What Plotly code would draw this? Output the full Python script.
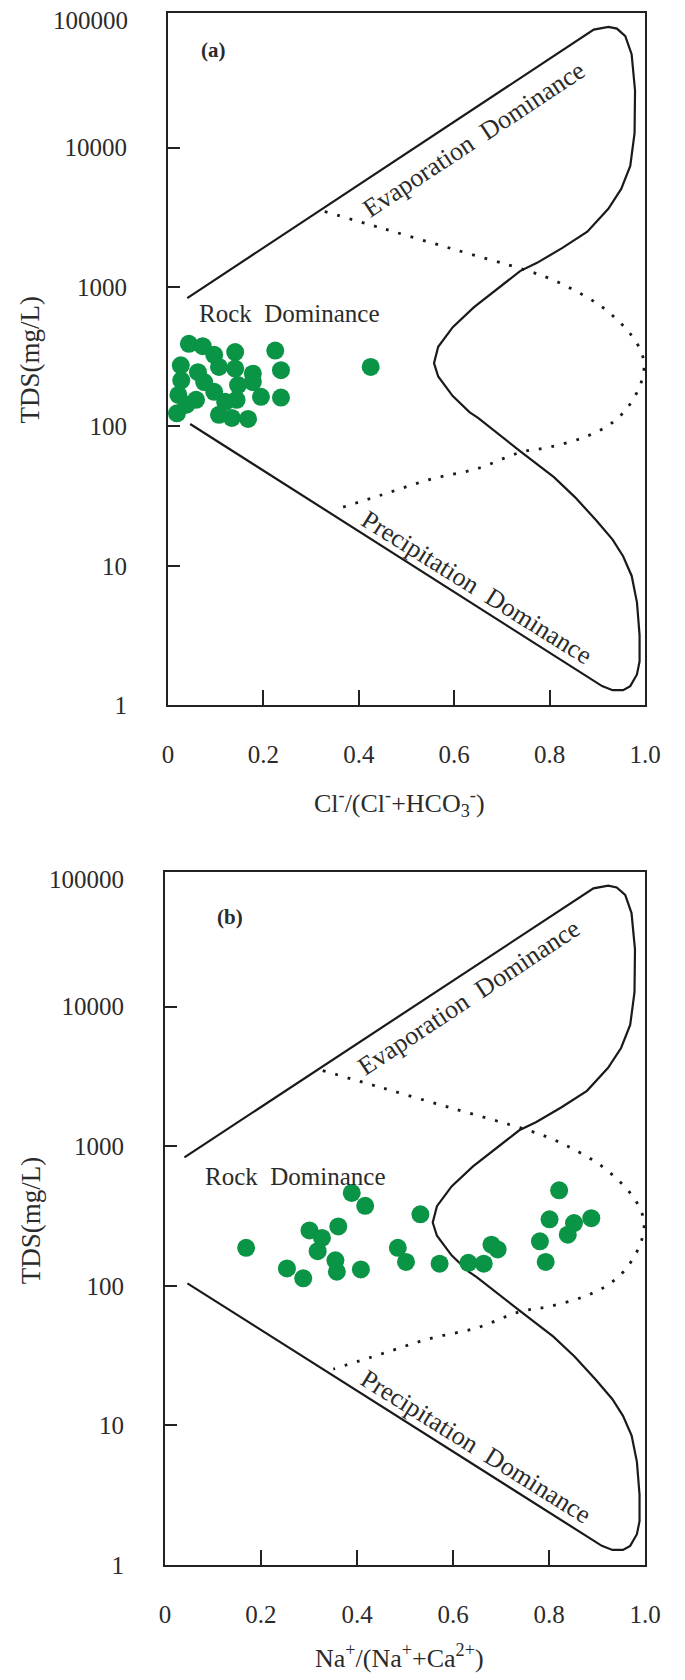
import plotly.graph_objects as go

W, H = 685, 1680

# ---------------- data ----------------
# Gibbs boundary (solid) : x ratio, TDS (mg/L)
bound_x = [0.0405, 0.8617, 0.8925, 0.9233, 0.941, 0.9586, 0.9718, 0.979, 0.978, 0.969,
           0.950, 0.923, 0.879, 0.826, 0.7736, 0.738, 0.694, 0.641, 0.597, 0.5665,
           0.5577, 0.5665, 0.597, 0.6326, 0.650, 0.694, 0.738, 0.809, 0.853, 0.897,
           0.932, 0.954, 0.972, 0.983, 0.9885, 0.9885, 0.983, 0.969, 0.954, 0.932,
           0.910, 0.0467]
bound_tds = [832, 59700, 70300, 73500, 71400, 63100, 46800, 25700, 12700, 7380,
             5050, 3640, 2490, 1900, 1490, 1300, 990, 714, 515, 372,
             284, 228, 165, 126, 115, 87, 66.5, 43.2, 31.1, 21.3,
             15.4, 11.7, 8.45, 5.47, 3.18, 2.06, 1.66, 1.37, 1.28, 1.28,
             1.37, 104]

# dotted boundary
dot_x = [0.3286, 0.45, 0.60, 0.747, 0.80, 0.85, 0.90, 0.94, 0.97, 0.99, 0.998,
         0.994, 0.981, 0.955, 0.92, 0.87, 0.80, 0.738, 0.65, 0.55, 0.45, 0.3507]
dot_tds = [3480, 2630, 1860, 1330, 1150, 955, 759, 589, 457, 355, 282,
           219, 170, 126, 100, 83, 71, 65, 50, 41.7, 32.4, 25.3]

# panel (a) samples: Cl/(Cl+HCO3), TDS
a_x = [0.044, 0.073, 0.097, 0.141, 0.225, 0.027, 0.063, 0.107, 0.141, 0.178,
       0.237, 0.028, 0.076, 0.147, 0.178, 0.097, 0.022, 0.059, 0.120, 0.144,
       0.195, 0.237, 0.019, 0.039, 0.107, 0.134, 0.168, 0.425]
a_tds = [391, 376, 326, 341, 350, 274, 245, 267, 260, 239,
         253, 214, 208, 198, 208, 177, 168, 155, 150, 155,
         163, 161, 124, 143, 121, 115, 113, 267]

# panel (b) samples: Na/(Na+Ca), TDS
b_x = [0.169, 0.254, 0.288, 0.301, 0.327, 0.318, 0.361, 0.355, 0.358, 0.389,
       0.417, 0.408, 0.485, 0.502, 0.532, 0.572, 0.632, 0.664, 0.680, 0.693,
       0.781, 0.793, 0.801, 0.821, 0.839, 0.852, 0.888]
b_tds = [187, 133, 113, 249, 220, 177, 266, 152, 126, 462,
         374, 131, 187, 148, 325, 144, 146, 144, 197, 182,
         208, 148, 299, 483, 232, 281, 305]

x_ticks = [0, 0.2, 0.4, 0.6, 0.8, 1.0]
x_ticktext = ["0", "0.2", "0.4", "0.6", "0.8", "1.0"]
y_ticks = [1, 10, 100, 1000, 10000]
y_ticktext = ["1", "10", "100", "1000", "10000"]

FONT = "Liberation Serif"
TXT = "#2b2b2b"
GREEN = "#0a9445"
LINE = "#1a1a1a"

fig = go.Figure()

for xa, ya, px, py in [("x", "y", a_x, a_tds), ("x2", "y2", b_x, b_tds)]:
    fig.add_trace(go.Scatter(x=bound_x, y=bound_tds, mode="lines", xaxis=xa, yaxis=ya,
                             line=dict(color=LINE, width=2.2), showlegend=False, hoverinfo="skip"))
    fig.add_trace(go.Scatter(x=dot_x, y=dot_tds, mode="lines", xaxis=xa, yaxis=ya,
                             line=dict(color=LINE, width=2.8, dash="2.8px,10px", shape="spline"),
                             showlegend=False, hoverinfo="skip"))
    fig.add_trace(go.Scatter(x=px, y=py, mode="markers", xaxis=xa, yaxis=ya,
                             marker=dict(color=GREEN, size=18, line=dict(width=0)),
                             showlegend=False))

def xaxis(domain, anchor):
    return dict(domain=domain, anchor=anchor, range=[0, 1], showline=True, mirror=True,
                linecolor="#222", linewidth=2, ticks="inside", ticklen=15, tickwidth=2,
                tickcolor="#222", tickvals=x_ticks, ticktext=x_ticktext, showgrid=False,
                zeroline=False, ticklabelstandoff=26,
                tickfont=dict(family=FONT, size=25, color=TXT))

def yaxis(domain, anchor):
    return dict(domain=domain, anchor=anchor, type="log", range=[0, 4.966], showline=True,
                mirror=True, linecolor="#222", linewidth=2, ticks="inside", ticklen=12,
                tickwidth=2, tickcolor="#222", tickvals=y_ticks, ticktext=y_ticktext,
                showgrid=False, zeroline=False, ticklabelstandoff=34,
                tickfont=dict(family=FONT, size=25, color=TXT))

fig.update_layout(
    width=W, height=H, margin=dict(l=0, r=0, t=0, b=0),
    paper_bgcolor="white", plot_bgcolor="white",
    xaxis=xaxis([159 / W, 652 / W], "y"),
    yaxis=yaxis([1 - 703 / H, 1 - 5 / H], "x"),
    xaxis2=xaxis([156 / W, 652 / W], "y2"),
    yaxis2=yaxis([1 - 1570 / H, 1 - 871 / H], "x2"),
)

ann = []
def txt(text, x, y, xref, yref, size=25, angle=0, bold=False, xanchor="center", yanchor="middle"):
    if bold:
        text = "<b>" + text + "</b>"
    ann.append(dict(text=text, x=x, y=y, xref=xref, yref=yref, showarrow=False,
                    textangle=angle, xanchor=xanchor, yanchor=yanchor,
                    font=dict(family=FONT, size=size, color=TXT)))

# panel (a)
txt("(a)", 0.095, 4.698, "x", "y", size=21, bold=True)
txt("Rock  Dominance", 0.2555, 2.807, "x", "y", size=25)
txt("Evaporation  Dominance", 0.641, 4.057, "x", "y", size=26, angle=-33.5)
txt("Precipitation  Dominance", 0.6476, 0.845, "x", "y", size=26, angle=32)
# panel (b)
txt("(b)", 0.135, 4.642, "x2", "y2", size=21, bold=True)
txt("Rock  Dominance", 0.2726, 2.783, "x2", "y2", size=25)
txt("Evaporation  Dominance", 0.633, 4.064, "x2", "y2", size=26, angle=-33.5)
txt("Precipitation  Dominance", 0.647, 0.846, "x2", "y2", size=26, angle=32)

# top tick labels (100000)
txt("100000", 120 / W, 1 - 13 / H, "paper", "paper", size=25, xanchor="right")
txt("100000", 116 / W, 1 - 879 / H, "paper", "paper", size=25, xanchor="right")

# axis titles
txt("TDS(mg/L)", 17 / W, 1 - 354 / H, "paper", "paper", size=27, angle=-90)
txt("TDS(mg/L)", 17 / W, 1 - 1222 / H, "paper", "paper", size=27, angle=-90)
txt("Cl<sup>-</sup>/(Cl<sup>-</sup>+HCO<sub>3</sub><sup>-</sup>)", 398 / W, 1 - 802 / H,
    "paper", "paper", size=26)
txt("Na<sup>+</sup>/(Na<sup>+</sup>+Ca<sup>2+</sup>)", 398 / W, 1 - 1662 / H,
    "paper", "paper", size=26)

fig.update_layout(annotations=ann)
fig.write_html("out.html")
